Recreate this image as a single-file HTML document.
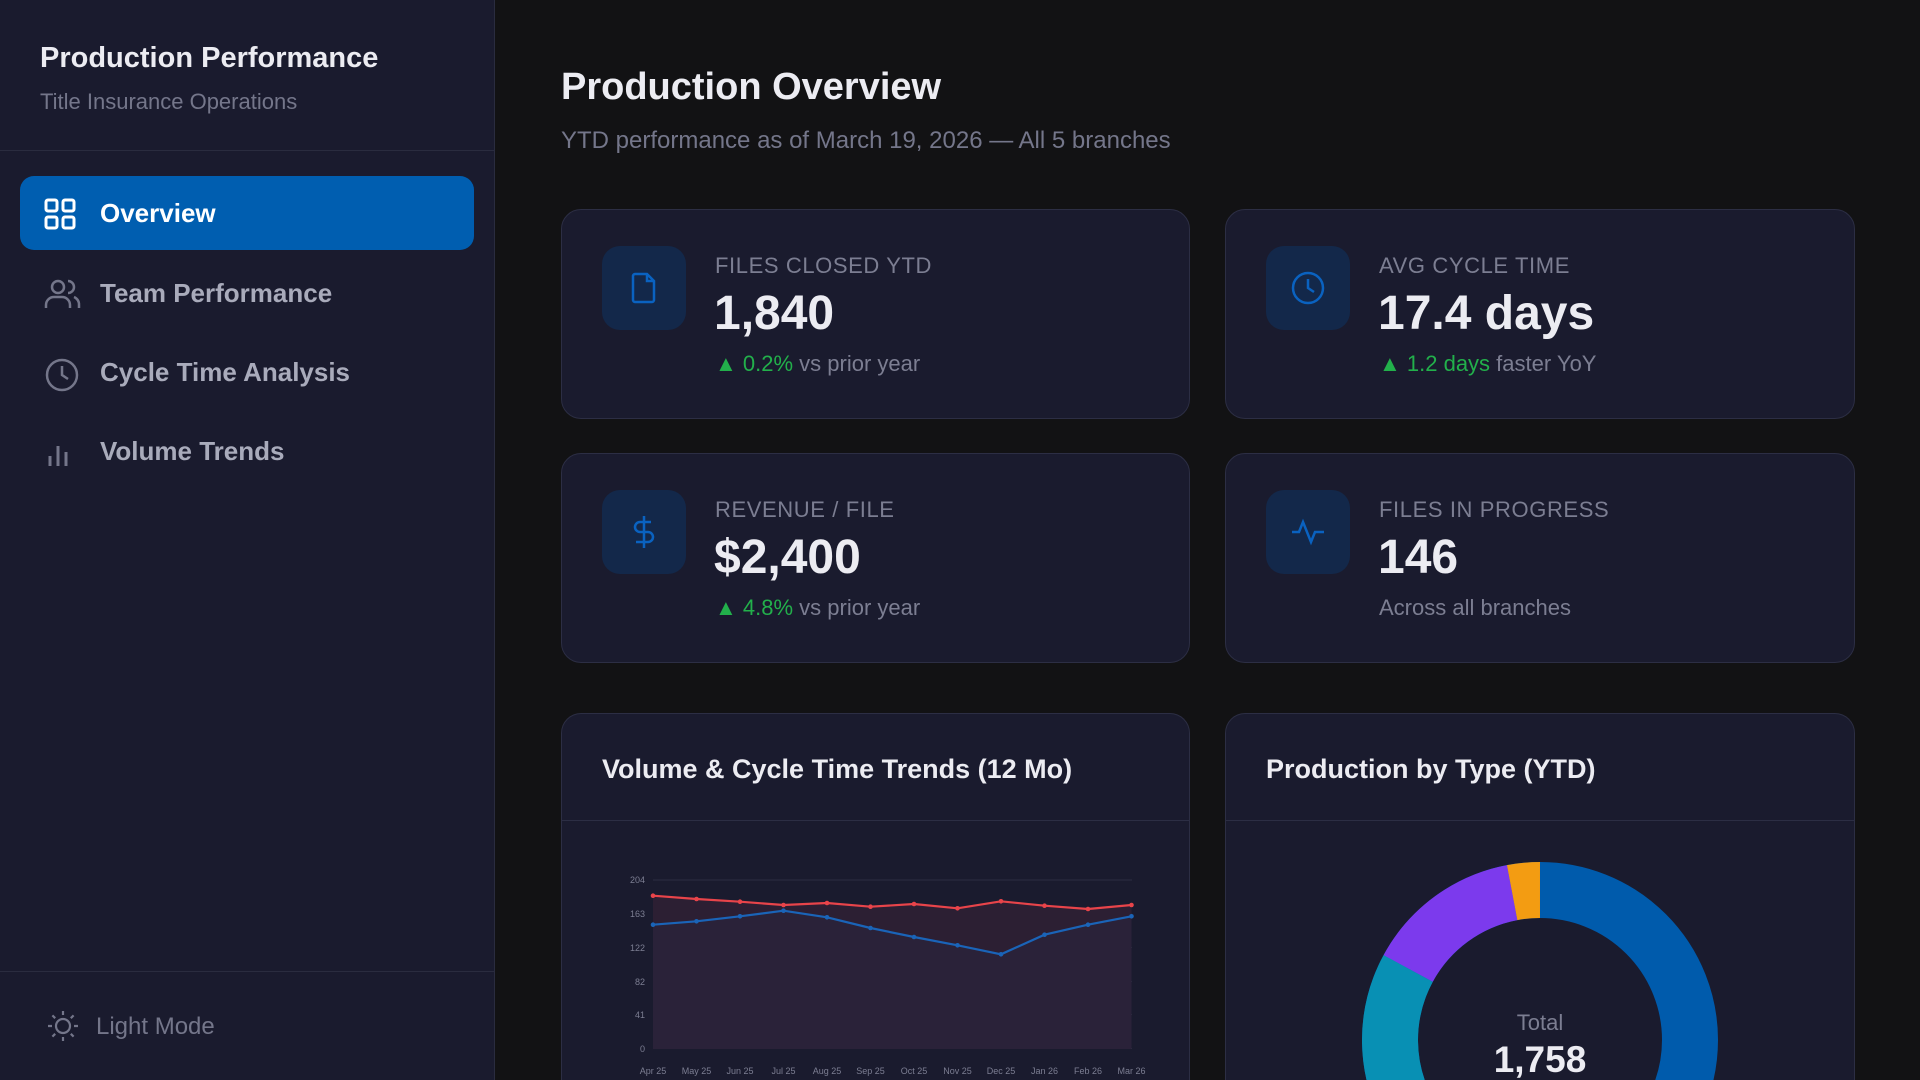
<!DOCTYPE html>
<html><head><meta charset="utf-8"><style>
*{box-sizing:border-box;margin:0;padding:0}
html,body{width:1920px;height:1080px;overflow:hidden}
body{background:#121214;font-family:"Liberation Sans",sans-serif;position:relative;color:#ececf2}
.sb{position:absolute;left:0;top:0;width:495px;height:1080px;background:#1a1b2e;border-right:1px solid #2a2c3f}
.abs{position:absolute;white-space:nowrap}
.nav{position:absolute;left:20px;width:454px;height:74px;border-radius:14px;display:flex;align-items:center;padding-left:80px;font-size:26px;font-weight:bold;color:#a9abbb}
.nav svg{position:absolute;left:24px;top:22px}
.card{position:absolute;background:#1a1b2e;border:1.5px solid #2c2e44;border-radius:20px;overflow:hidden}
.ib{position:absolute;left:40px;top:36px;width:84px;height:84px;border-radius:18px;background:#13284a}
.ib svg{position:absolute;left:24px;top:24px}
.lab{position:absolute;left:153px;top:43px;font-size:22px;letter-spacing:0.6px;color:#7c7e92}
.val{position:absolute;left:152px;top:76px;font-size:48px;font-weight:bold;color:#ececf2}
.dl{position:absolute;left:153px;top:141px;font-size:22px;color:#7c7e92}
.g{color:#22b04b}
.ct{position:absolute;left:40px;top:40px;font-size:27px;font-weight:bold}
.hl{position:absolute;left:0;right:0;top:106px;border-top:1.5px solid #2c2e44}
</style></head><body>
<div class="sb">
<div class="abs" style="left:40px;top:42px;font-size:29px;font-weight:bold;color:#ececf2">Production Performance</div>
<div class="abs" style="left:40px;top:89px;font-size:22px;color:#74768a">Title Insurance Operations</div>
<div style="position:absolute;left:0;right:0;top:150px;border-top:1.5px solid #2a2c3f"></div>
<div class="nav" style="top:176px;background:#005eb0;color:#fff"><svg width="32" height="32" viewBox="0 0 32 32" fill="none" stroke="#fff" stroke-width="3"><rect x="2" y="2" width="11" height="11" rx="2"/><rect x="19" y="2" width="11" height="11" rx="2"/><rect x="2" y="19" width="11" height="11" rx="2"/><rect x="19" y="19" width="11" height="11" rx="2"/></svg>Overview</div>
<div class="nav" style="top:256px"><svg width="38" height="32" viewBox="0 0 38 32" fill="none" stroke="#74768a" stroke-width="2.5"><circle cx="14" cy="9" r="6"/><path d="M2 30v-3a8 8 0 0 1 8-8h8a8 8 0 0 1 8 8v3M24 3a6 6 0 0 1 0 12M30 19a8 8 0 0 1 5 8v3"/></svg>Team Performance</div>
<div class="nav" style="top:335px"><svg width="36" height="36" viewBox="0 0 36 36" fill="none" stroke="#74768a" stroke-width="2.5"><circle cx="18" cy="18" r="15"/><path d="M18 9v9l6 4"/></svg>Cycle Time Analysis</div>
<div class="nav" style="top:414px"><svg width="32" height="32" viewBox="0 0 32 32" fill="none" stroke="#74768a" stroke-width="3"><path d="M6 30v-10M14 30v-20M22 30v-14"/></svg>Volume Trends</div>
<div style="position:absolute;left:0;right:0;top:971px;border-top:1.5px solid #2a2c3f"></div>
<svg style="position:absolute;left:46px;top:1009px" width="34" height="34" viewBox="0 0 34 34" fill="none" stroke="#74768a" stroke-width="2.2"><circle cx="17" cy="17" r="7"/><path d="M17 2v4M17 28v4M2 17h4M28 17h4M6.4 6.4l2.8 2.8M24.8 24.8l2.8 2.8M6.4 27.6l2.8-2.8M24.8 9.2l2.8-2.8"/></svg>
<div class="abs" style="left:96px;top:1013px;font-size:24px;color:#74768a">Light Mode</div>
</div>

<div class="abs" style="left:561px;top:66px;font-size:38px;font-weight:bold">Production Overview</div>
<div class="abs" style="left:561px;top:127px;font-size:24px;color:#74768a">YTD performance as of March 19, 2026 — All 5 branches</div>

<div class="card" style="left:561px;top:209px;width:629px;height:210px">
<div class="ib"><svg width="36" height="36" viewBox="0 0 36 36" fill="none" stroke="#0a62c0" stroke-width="2.5"><path d="M9 4h12l7 7v19a2 2 0 0 1-2 2H9a2 2 0 0 1-2-2V6a2 2 0 0 1 2-2zM21 4v7h7"/></svg></div>
<div class="lab">FILES CLOSED YTD</div><div class="val">1,840</div><div class="dl"><span class="g">▲ 0.2%</span> vs prior year</div></div>
<div class="card" style="left:1225px;top:209px;width:630px;height:210px">
<div class="ib"><svg width="36" height="36" viewBox="0 0 36 36" fill="none" stroke="#0a62c0" stroke-width="2.5"><circle cx="18" cy="18" r="15"/><path d="M18 9v9l6 4"/></svg></div>
<div class="lab">AVG CYCLE TIME</div><div class="val">17.4 days</div><div class="dl"><span class="g">▲ 1.2 days</span> faster YoY</div></div>
<div class="card" style="left:561px;top:453px;width:629px;height:210px">
<div class="ib"><svg width="36" height="36" viewBox="0 0 36 36" fill="none" stroke="#0a62c0" stroke-width="2.5"><path d="M18 2v32M25 8H14a5 5 0 0 0 0 10h8a5 5 0 0 1 0 10H10"/></svg></div>
<div class="lab">REVENUE / FILE</div><div class="val">$2,400</div><div class="dl"><span class="g">▲ 4.8%</span> vs prior year</div></div>
<div class="card" style="left:1225px;top:453px;width:630px;height:210px">
<div class="ib"><svg width="36" height="36" viewBox="0 0 36 36" fill="none" stroke="#0a62c0" stroke-width="2.5"><path d="M2 18h7l4-10 8 20 4-10h9"/></svg></div>
<div class="lab">FILES IN PROGRESS</div><div class="val">146</div><div class="dl">Across all branches</div></div>

<div class="card" style="left:561px;top:713px;width:629px;height:367px;border-bottom:none;border-radius:20px 20px 0 0">
<div class="ct">Volume &amp; Cycle Time Trends (12 Mo)</div><div class="hl"></div></div>
<div class="card" style="left:1225px;top:713px;width:630px;height:367px;border-bottom:none;border-radius:20px 20px 0 0">
<div class="ct">Production by Type (YTD)</div><div class="hl"></div></div>

<svg style="position:absolute;left:0;top:0" width="1920" height="1080">
<g stroke="#2c2d42" stroke-width="1"><line x1="653" x2="1132" y1="880" y2="880"/><line x1="653" x2="1132" y1="914" y2="914"/><line x1="653" x2="1132" y1="947.5" y2="947.5"/><line x1="653" x2="1132" y1="981.5" y2="981.5"/><line x1="653" x2="1132" y1="1014.5" y2="1014.5"/><line x1="653" x2="1132" y1="1048.5" y2="1048.5"/></g>
<g font-size="9" fill="#7c7e92" text-anchor="end"><text x="645" y="883">204</text><text x="645" y="917">163</text><text x="645" y="951">122</text><text x="645" y="985">82</text><text x="645" y="1018">41</text><text x="645" y="1052">0</text></g>
<polygon fill="#2c1f33" points="653,895.7 696.5,899 740,901.7 783.5,905 827,903 870.5,906.7 914,904 957.5,908.3 1001,901.3 1044.5,905.7 1088,909 1131.5,905 1131.5,1049 653,1049"/>
<polygon fill="#2a2239" points="653,924.7 696.5,921.3 740,916.3 783.5,910.7 827,917.3 870.5,928 914,937 957.5,945.3 1001,954.3 1044.5,934.7 1088,924.7 1131.5,916.3 1131.5,1049 653,1049"/>
<polyline fill="none" stroke="#e8444a" stroke-width="2.2" points="653,895.7 696.5,899 740,901.7 783.5,905 827,903 870.5,906.7 914,904 957.5,908.3 1001,901.3 1044.5,905.7 1088,909 1131.5,905"/>
<polyline fill="none" stroke="#1a64b8" stroke-width="2.2" points="653,924.7 696.5,921.3 740,916.3 783.5,910.7 827,917.3 870.5,928 914,937 957.5,945.3 1001,954.3 1044.5,934.7 1088,924.7 1131.5,916.3"/>
<g fill="#e8444a"><circle cx="653" cy="895.7" r="2.3"/><circle cx="696.5" cy="899" r="2.3"/><circle cx="740" cy="901.7" r="2.3"/><circle cx="783.5" cy="905" r="2.3"/><circle cx="827" cy="903" r="2.3"/><circle cx="870.5" cy="906.7" r="2.3"/><circle cx="914" cy="904" r="2.3"/><circle cx="957.5" cy="908.3" r="2.3"/><circle cx="1001" cy="901.3" r="2.3"/><circle cx="1044.5" cy="905.7" r="2.3"/><circle cx="1088" cy="909" r="2.3"/><circle cx="1131.5" cy="905" r="2.3"/></g>
<g fill="#1a64b8"><circle cx="653" cy="924.7" r="2.3"/><circle cx="696.5" cy="921.3" r="2.3"/><circle cx="740" cy="916.3" r="2.3"/><circle cx="783.5" cy="910.7" r="2.3"/><circle cx="827" cy="917.3" r="2.3"/><circle cx="870.5" cy="928" r="2.3"/><circle cx="914" cy="937" r="2.3"/><circle cx="957.5" cy="945.3" r="2.3"/><circle cx="1001" cy="954.3" r="2.3"/><circle cx="1044.5" cy="934.7" r="2.3"/><circle cx="1088" cy="924.7" r="2.3"/><circle cx="1131.5" cy="916.3" r="2.3"/></g>
<g font-size="9" fill="#7c7e92" text-anchor="middle"><text x="653" y="1074">Apr 25</text><text x="696.5" y="1074">May 25</text><text x="740" y="1074">Jun 25</text><text x="783.5" y="1074">Jul 25</text><text x="827" y="1074">Aug 25</text><text x="870.5" y="1074">Sep 25</text><text x="914" y="1074">Oct 25</text><text x="957.5" y="1074">Nov 25</text><text x="1001" y="1074">Dec 25</text><text x="1044.5" y="1074">Jan 26</text><text x="1088" y="1074">Feb 26</text><text x="1131.5" y="1074">Mar 26</text></g>
<g transform="translate(1540,1040)" fill="none" stroke-width="56">
<circle r="150" stroke="#005bac"/>
<circle r="150" stroke="#0890b4" stroke-dasharray="256.6 1000" transform="rotate(110.5)"/>
<circle r="150" stroke="#7c3aed" stroke-dasharray="133 1000" transform="rotate(208.5)"/>
<circle r="150" stroke="#f39c12" stroke-dasharray="28 1000" transform="rotate(259.3)"/>
</g>
<text x="1540" y="1030" text-anchor="middle" font-size="22" fill="#7c7e92">Total</text>
<text x="1540" y="1072" text-anchor="middle" font-size="37" font-weight="bold" fill="#ececf2">1,758</text>
</svg>
</body></html>
